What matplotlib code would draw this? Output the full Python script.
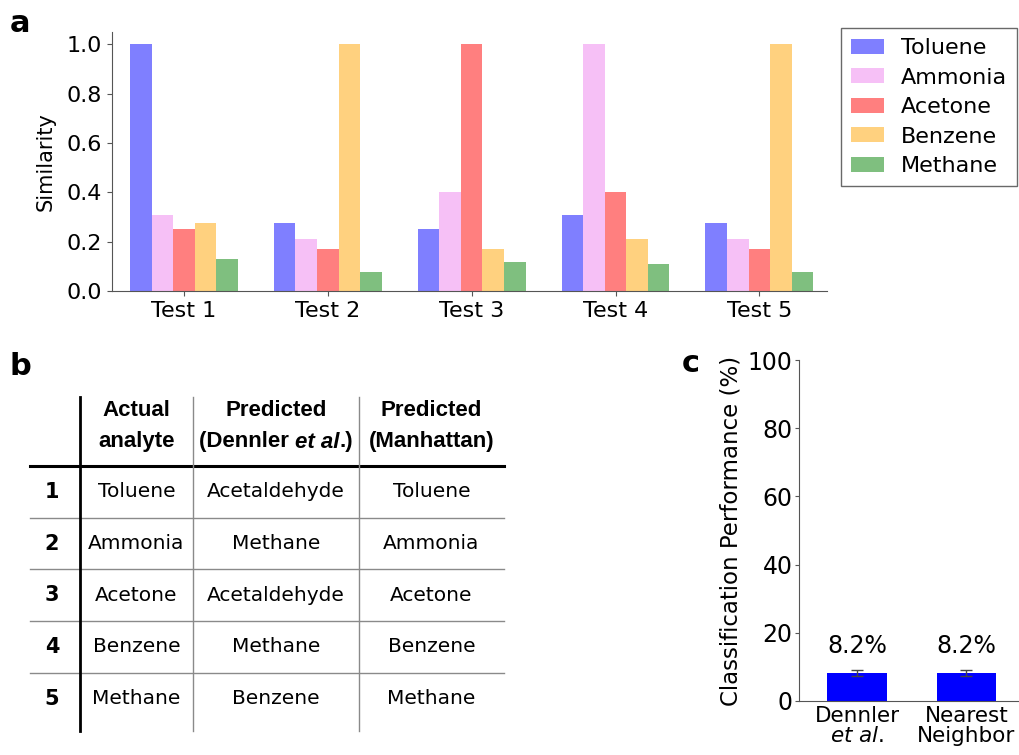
import matplotlib
matplotlib.use("Agg")
import matplotlib.pyplot as plt
import numpy as np

plt.rcParams["font.family"] = ["DejaVu Sans"]

# --- panel a data ---
TESTS = ["Test 1", "Test 2", "Test 3", "Test 4", "Test 5"]
ANALYTES = ["Toluene", "Ammonia", "Acetone", "Benzene", "Methane"]
toluene = [1.00, 0.277, 0.252, 0.310, 0.277]
ammonia = [0.310, 0.210, 0.400, 1.00, 0.210]
acetone = [0.252, 0.171, 1.00, 0.400, 0.171]
benzene = [0.277, 1.00, 0.171, 0.210, 1.00]
methane = [0.128, 0.078, 0.116, 0.109, 0.078]
SERIES = [toluene, ammonia, acetone, benzene, methane]
COLORS = ["blue", "violet", "red", "orange", "green"]

# --- panel b data ---
ROW_IDS = ["1", "2", "3", "4", "5"]
actual = ["Toluene", "Ammonia", "Acetone", "Benzene", "Methane"]
pred_dennler = ["Acetaldehyde", "Methane", "Acetaldehyde", "Methane", "Benzene"]
pred_manhattan = ["Toluene", "Ammonia", "Acetone", "Benzene", "Methane"]

# --- panel c data ---
METHODS = ["Dennler\n$\\it{et\\ al.}$", "Nearest\nNeighbor"]
performance = [8.2, 8.2]
perf_err = [0.8, 0.8]

W, H = 1019, 755
fig = plt.figure(figsize=(W / 100, H / 100), dpi=100)
renderer = fig.canvas.get_renderer()


def px_axes(left, top, right, bottom):
    return fig.add_axes([left / W, 1 - bottom / H, (right - left) / W, (bottom - top) / H])


SPINE = "#555555"

# ─── panel a ───────────────────────────────────────────────
ax = px_axes(112, 32, 827, 291)
x = np.arange(len(TESTS))
width = 0.15
for i, (name, vals, c) in enumerate(zip(ANALYTES, SERIES, COLORS)):
    ax.bar(x + (i - 2) * width, vals, width, color=c, alpha=0.5, label=name)
ax.set_xticks(x)
ax.set_xticklabels(TESTS, fontsize=16)
ax.set_ylim(0, 1.05)
ax.set_xlim(-0.5, 4.47)
ax.set_yticks([0, 0.2, 0.4, 0.6, 0.8, 1.0])
ax.set_yticklabels(["0.0", "0.2", "0.4", "0.6", "0.8", "1.0"], fontsize=16)
ax.set_ylabel("Similarity", fontsize=15, labelpad=8)
for s in ["top", "right"]:
    ax.spines[s].set_visible(False)
for s in ["left", "bottom"]:
    ax.spines[s].set_color(SPINE)
ax.tick_params(colors=SPINE, labelcolor="black")
leg = ax.legend(loc="upper left", bbox_to_anchor=((841 - 112) / 715, (291 - 28) / 259),
                fontsize=16, frameon=True, fancybox=False, edgecolor="#444444",
                borderaxespad=0, handlelength=1.5, handleheight=0.65, labelspacing=0.43,
                handletextpad=0.75, borderpad=0.45)
leg.get_frame().set_linewidth(1.0)
fig.text(10 / W, 1 - 32 / H, "a", fontsize=22, fontweight="bold")

# ─── panel b (table) ───────────────────────────────────────
tb = fig.add_axes([0, 0, 1, 1])
tb.set_xlim(0, W)
tb.set_ylim(H, 0)
tb.axis("off")

col_edges = [30, 80, 193, 359, 504]
head_top, head_bot = 397, 466
row_h = 51.7
n_rows = len(ROW_IDS)
table_bot = head_bot + n_rows * row_h + 6

# lines
tb.plot([col_edges[0], col_edges[-1]], [head_bot, head_bot], color="black", lw=2.2)
for r in range(1, n_rows):
    yy = head_bot + r * row_h
    tb.plot([col_edges[0], col_edges[-1]], [yy, yy], color="#8a8a8a", lw=1.0)
tb.plot([col_edges[1]] * 2, [head_top, table_bot], color="black", lw=2.0)
for xe in col_edges[2:4]:
    tb.plot([xe, xe], [head_top, table_bot], color="#8a8a8a", lw=1.0)

centers = [(col_edges[i] + col_edges[i + 1]) / 2 for i in range(4)]
HEAD_FAM = ["Liberation Sans", "DejaVu Sans"]
hfont = dict(family=HEAD_FAM, fontweight="bold", fontsize=16, ha="center", va="center")
tb.text(centers[1], 410, "Actual", **hfont)
tb.text(centers[1], 442, "analyte", **hfont)
tb.text(centers[2], 410, "Predicted", **hfont)
tb.text(centers[3], 410, "Predicted", **hfont)
tb.text(centers[3], 442, "(Manhattan)", **hfont)

# mixed upright / italic header line, measured and centred piece by piece
pieces = [("(Dennler ", "normal"), ("et al", "italic"), (".)", "normal")]
arts = [tb.text(0, 442, s, family=HEAD_FAM, fontweight="bold", style=st, fontsize=16,
                ha="left", va="center") for s, st in pieces]
widths = [a.get_window_extent(renderer).width for a in arts]
xpos = centers[2] - sum(widths) / 2
for a, w in zip(arts, widths):
    a.set_x(xpos)
    xpos += w

for r in range(n_rows):
    yy = head_bot + (r + 0.5) * row_h
    tb.text(52, yy, ROW_IDS[r], fontsize=15, fontweight="bold", ha="center", va="center")
    tb.text(centers[1], yy, actual[r], fontsize=14.5, ha="center", va="center")
    tb.text(centers[2], yy, pred_dennler[r], fontsize=14.5, ha="center", va="center")
    tb.text(centers[3], yy, pred_manhattan[r], fontsize=14.5, ha="center", va="center")

fig.text(10 / W, 1 - 375 / H, "b", fontsize=22, fontweight="bold")

# ─── panel c ───────────────────────────────────────────────
axc = px_axes(799, 360, 1019, 701)
xc = np.arange(len(METHODS))
axc.bar(xc, performance, 0.545, color="blue", yerr=perf_err, capsize=4,
        error_kw=dict(ecolor="#444444", elinewidth=1.0, capthick=1.0))
for xi, v in zip(xc, performance):
    axc.text(xi, v + 4.5, f"{v}%", ha="center", va="bottom", fontsize=17)
axc.set_ylim(0, 100)
axc.set_xlim(-0.53, 1.48)
axc.set_xticks(xc)
axc.set_xticklabels(METHODS, fontsize=15.5, linespacing=1.0)
axc.tick_params(axis="x", length=0)
axc.set_yticks([0, 20, 40, 60, 80, 100])
axc.tick_params(axis="y", labelsize=17, colors=SPINE, labelcolor="black", length=3, pad=1.5)
axc.set_ylabel("Classification Performance (%)", fontsize=16.5, labelpad=4)
for s in ["top", "right"]:
    axc.spines[s].set_visible(False)
for s in ["left", "bottom"]:
    axc.spines[s].set_color(SPINE)
fig.text(682 / W, 1 - 372 / H, "c", fontsize=22, fontweight="bold")

fig.savefig("out.png", dpi=100, facecolor="white")
